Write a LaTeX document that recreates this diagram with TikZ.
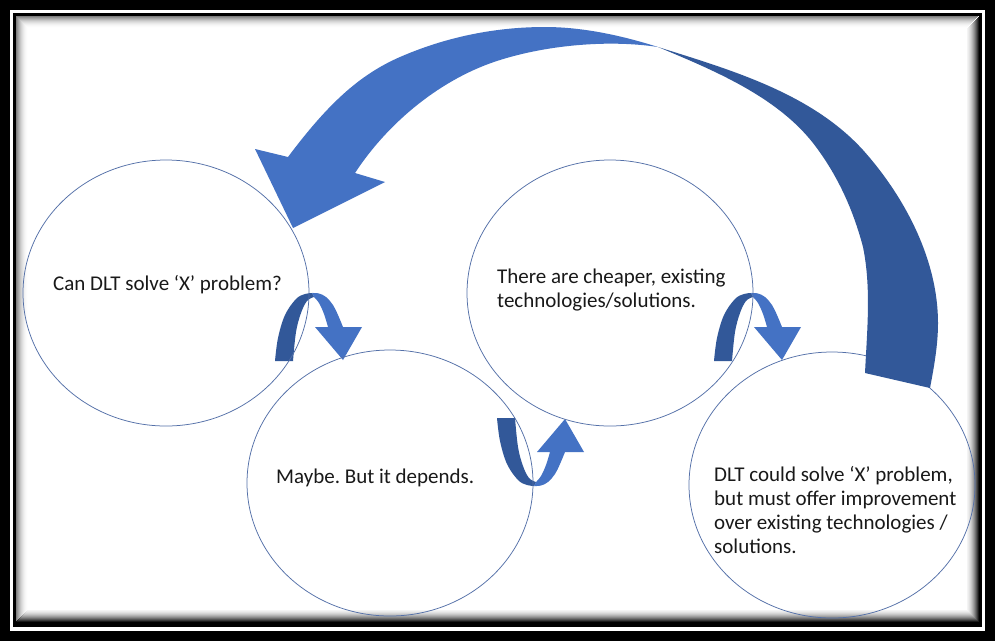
\documentclass[tikz,border=0pt]{standalone}
\usepackage{fontspec}
\setmainfont{Carlito}
\definecolor{lightblue}{RGB}{68,114,196}
\definecolor{darkblue}{RGB}{50,88,153}
\definecolor{ringblue}{RGB}{84,112,168}
\tikzset{
  ring/.style={draw=ringblue, line width=0.75pt},
  txt/.style={font=\fontsize{21}{24}\selectfont, inner sep=0pt, align=left, anchor=west, text=black!90}
}
\newcommand{\mysmallarrow}{%
  \fill[darkblue] plot[smooth, tension=0.6] coordinates {(275,361) (278,338) (285,315) (296,299) (305,294) (312,293)}
    -- plot[smooth, tension=0.6] coordinates {(314,297) (307,301) (301,313) (296,332) (293,361)} -- cycle;
  \fill[lightblue] plot[smooth, tension=0.6] coordinates {(312,293) (319,293.5) (326,297) (333,305) (338,315) (343,327)}
    -- (362,327) -- (343,360) -- (315,327)
    -- plot[smooth, tension=0.6] coordinates {(328,327) (324,314) (319,303) (314,297)} -- cycle;
}
\begin{document}
\frenchspacing
\begin{tikzpicture}[x=1pt,y=-1pt]
\useasboundingbox (0,0) rectangle (995,641);
% frame
\fill[black] (0,0) rectangle (995,641);
\fill[white] (9.5,10) rectangle (984.5,630.5);
\fill[black] (12.5,12.5) rectangle (981.5,627);
\fill[white] (15.5,16) rectangle (978.5,622);
\foreach \i in {0,...,11}{
  \pgfmathsetmacro\opa{0.5*(1-\i/12)^2}
  \pgfmathsetmacro\opb{0.9*(1-\i/14)^2}
  \draw[black, opacity=\opa, line width=1pt] (16+\i,621.5-\i) -- (16+\i,16.5+\i) -- (978-\i,16.5+\i);
  \draw[black, opacity=\opb, line width=1pt] (978-\i,16.5+\i) -- (978-\i,621.5-\i) -- (16+\i,621.5-\i);
}
% small arrows (beneath the circles)
\mysmallarrow
\begin{scope}[shift={(439,0)}]\mysmallarrow\end{scope}
\begin{scope}[shift={(222,779)}, yscale=-1]\mysmallarrow\end{scope}
% circles
\draw[ring] (166,293) ellipse [x radius=143, y radius=133];
\draw[ring] (390,483) ellipse [x radius=143, y radius=133];
\draw[ring] (610,293) ellipse [x radius=143, y radius=133];
\draw[ring] (832,485) ellipse [x radius=143, y radius=133];
% big arrow: light front part with head
\fill[lightblue] (355,173) -- (385,182) -- (293,228) -- (255,149) -- (288,157)
  .. controls (327,105) and (358.6,75) .. (400,57)
  .. controls (446,37) and (495,27) .. (545,27)
  .. controls (583,27) and (622,35.6) .. (658,47)
  .. controls (609,39.5) and (547.5,45) .. (500,60)
  .. controls (442,78) and (388.5,121.8) .. (355,173) -- cycle;
% big arrow: dark back part with tail
\fill[darkblue] (658,47)
  .. controls (731,70) and (811,93) .. (863,150)
  .. controls (905,197) and (938,260) .. (938,323)
  .. controls (938,345) and (934,367) .. (930,388)
  -- (865,373)
  .. controls (867,331) and (871.4,288) .. (863,247)
  .. controls (853,209) and (837,174) .. (813,143)
  .. controls (776,96) and (713,70) .. (658,47) -- cycle;
% texts
\node[txt] (q1) at (53,285) {Can DLT solve ‘X’ problem?};
\node[txt] (q2) at (497,290) {There are cheaper, existing\\technologies/solutions.};
\node[txt] (q3) at (276,478) {Maybe. But it depends.};
\node[txt] (q4) at (714,509.5) {DLT could solve ‘X’ problem,\\but must offer improvement\\over existing technologies /\\solutions.};
\end{tikzpicture}
\end{document}
